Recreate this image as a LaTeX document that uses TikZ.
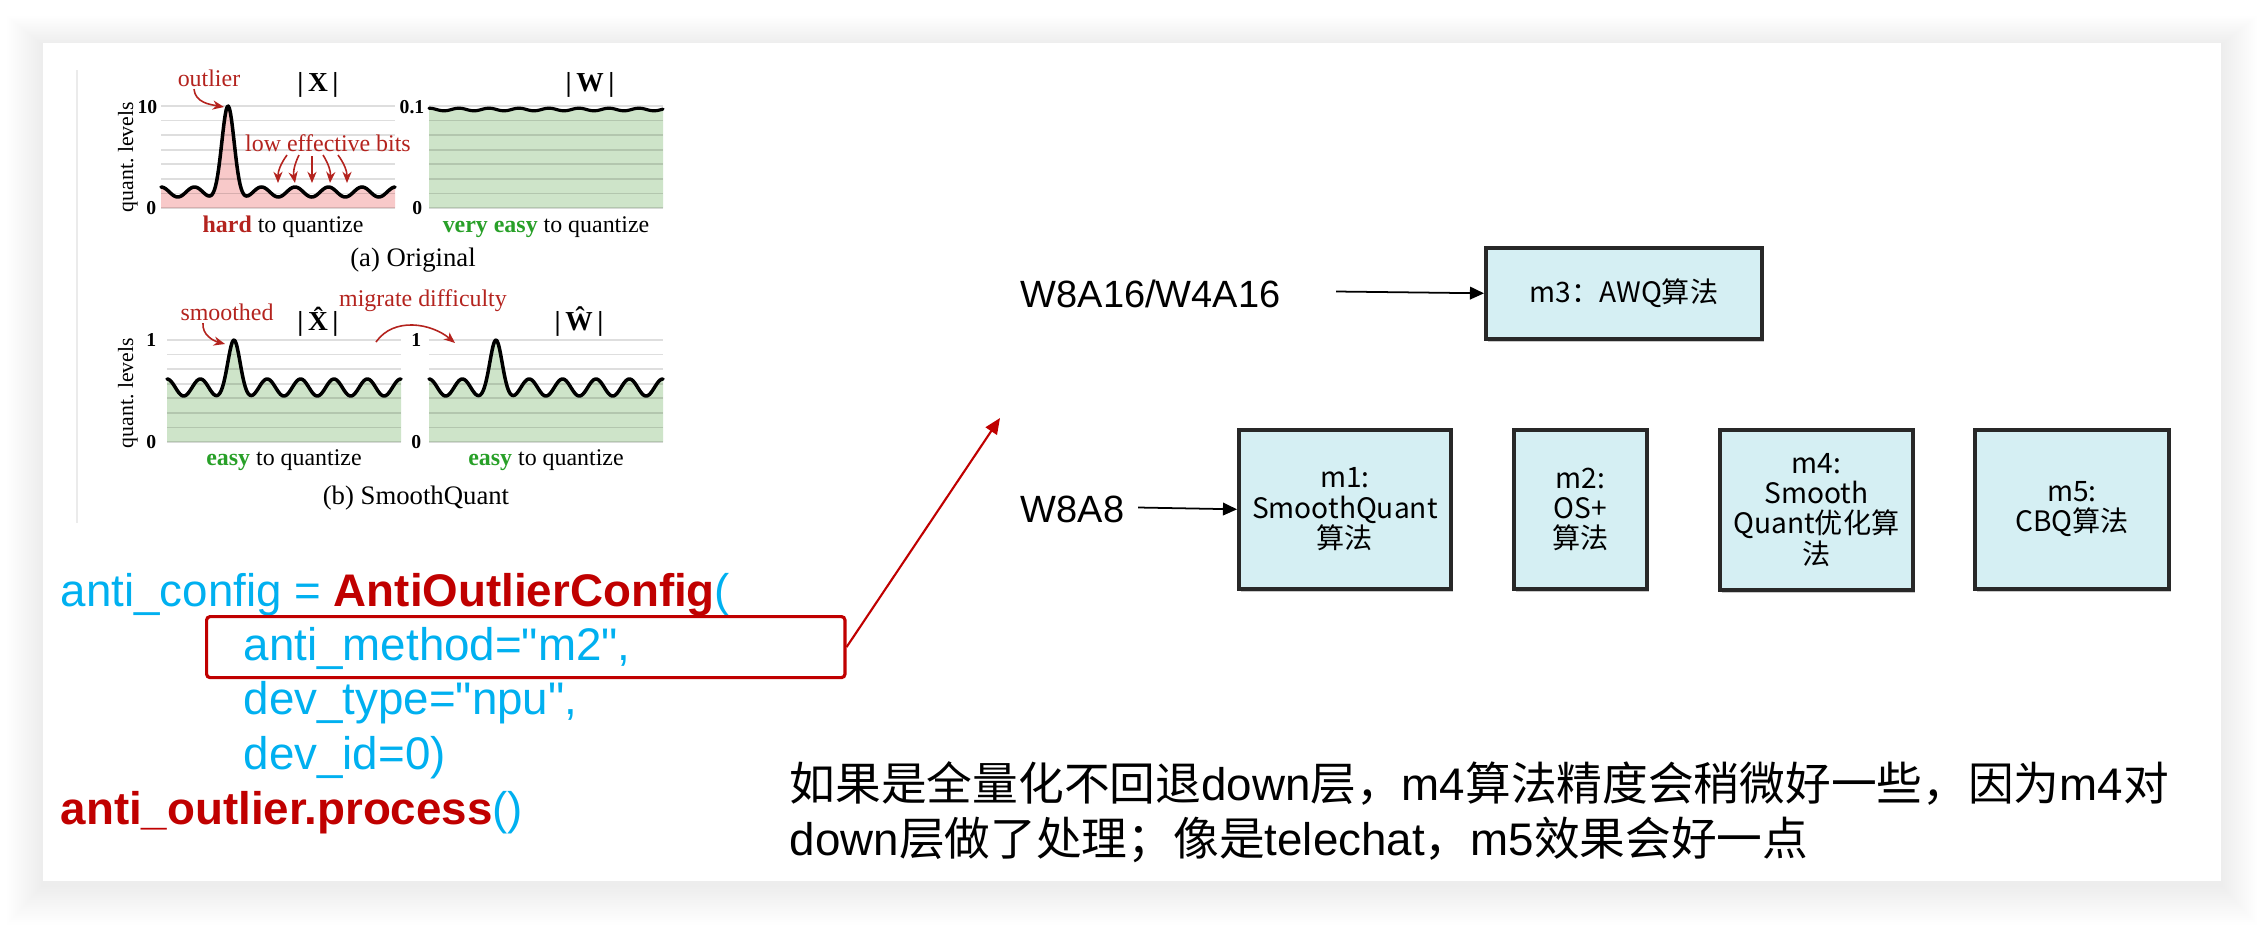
\documentclass[tikz,border=0pt]{standalone}
\usepackage{fontspec}
\setmainfont{Liberation Serif}
\newfontfamily\arial{Liberation Sans}
\newfontfamily\cjk{Noto Sans CJK SC}
\usetikzlibrary{arrows.meta,shadows}
\definecolor{codeblue}{RGB}{0,176,240}
\definecolor{codered}{RGB}{192,0,0}
\definecolor{figred}{RGB}{180,35,30}
\definecolor{figgreen}{RGB}{40,160,40}
\definecolor{pinkfill}{RGB}{248,201,201}
\definecolor{greenfill}{RGB}{206,228,201}
\definecolor{boxfill}{RGB}{213,239,243}
\definecolor{boxline}{RGB}{40,40,40}
\tikzset{
  figtxt/.style={inner sep=0pt, font=\fontsize{6.8}{8}\selectfont},
  redtxt/.style={figtxt, text=figred},
  ticktxt/.style={inner sep=0pt, font=\bfseries\fontsize{5.6}{6}\selectfont},
  captxt/.style={inner sep=0pt, font=\fontsize{7.6}{9}\selectfont},
  titletxt/.style={inner sep=0pt, font=\bfseries\fontsize{7.8}{9}\selectfont},
  grid line/.style={black, opacity=0.13, line width=0.45pt},
  curve/.style={line width=1pt, line join=round, line cap=round},
  redarrow/.style={figred, line width=0.45pt, -{Stealth[length=3.2pt,width=2.6pt]}},
  codetxt/.style={inner sep=0pt, anchor=base west, font=\arial\fontsize{13}{15}\selectfont, text=codeblue},
  algbox/.style={draw=boxline, line width=1pt, fill=boxfill, anchor=north west, align=center, inner sep=1pt,
    font=\cjk\fontsize{8}{8.6}\selectfont,
    drop shadow={shadow xshift=0.7pt, shadow yshift=-1pt, opacity=0.35, fill=black!60}},
  lbltxt/.style={inner sep=0pt, anchor=west, font=\arial\fontsize{10.8}{12}\selectfont},
  blackarrow/.style={line width=0.5pt, -{Triangle[length=4pt,width=3.6pt]}},
  notetxt/.style={inner sep=0pt, anchor=west, font=\arial\fontsize{13}{15}\selectfont},
}
\begin{document}
\begin{tikzpicture}[x=0.01cm,y=-0.01cm]
\useasboundingbox (0,0) rectangle (2264,924);
\fill[white] (0,0) rectangle (2264,924);
% slide shadow
\foreach \i in {1,...,18}{
  \fill[black, opacity=0.005] (43-2*\i,45-1.6*\i) rectangle (2221+2*\i,885+2.2*\i);
}
\fill[white] (43,43) rectangle (2221,881);

% inset border
\draw[black!8, line width=0.6pt] (77,70) -- (77,523);

% ---------- top-left chart |X|
\fill[pinkfill] (161,208) -- plot[domain=161:395, samples=220] (\x,{192-5*cos((\x-161)/33.5*360)-81*exp(-((\x-228)/8.5)*((\x-228)/8.5))}) -- (395,208) -- cycle;
\foreach \k in {0,...,7} \draw[grid line] (161,{106+\k*14.57}) -- (395,{106+\k*14.57});
\draw[curve] plot[domain=161:395, samples=220] (\x,{192-5*cos((\x-161)/33.5*360)-81*exp(-((\x-228)/8.5)*((\x-228)/8.5))});

% ---------- top-right chart |W|
\fill[greenfill] (429,208) -- plot[domain=429:663, samples=160] (\x,{109.5-1.3*cos((\x-429)/30*360)}) -- (663,208) -- cycle;
\foreach \k in {0,...,7} \draw[grid line] (429,{106+\k*14.57}) -- (663,{106+\k*14.57});
\draw[curve, line width=0.9pt] plot[domain=429:663, samples=160] (\x,{109.5-1.3*cos((\x-429)/30*360)});

% ---------- bottom-left chart
\fill[greenfill] (167,442) -- plot[domain=167:401, samples=220] (\x,{387.5-8.5*cos((\x-167)/33.4*360)-39*exp(-((\x-234)/8)*((\x-234)/8))}) -- (401,442) -- cycle;
\foreach \k in {0,...,7} \draw[grid line] (167,{340+\k*14.57}) -- (401,{340+\k*14.57});
\draw[curve] plot[domain=167:401, samples=220] (\x,{387.5-8.5*cos((\x-167)/33.4*360)-39*exp(-((\x-234)/8)*((\x-234)/8))});

% ---------- bottom-right chart
\fill[greenfill] (429,442) -- plot[domain=429:663, samples=220] (\x,{387.5-8.5*cos((\x-429)/33.4*360)-39*exp(-((\x-496)/8)*((\x-496)/8))}) -- (663,442) -- cycle;
\foreach \k in {0,...,7} \draw[grid line] (429,{340+\k*14.57}) -- (663,{340+\k*14.57});
\draw[curve] plot[domain=429:663, samples=220] (\x,{387.5-8.5*cos((\x-429)/33.4*360)-39*exp(-((\x-496)/8)*((\x-496)/8))});

% ---------- chart texts
\node[redtxt] (outl) at (209,78) {outlier};
\coordinate (pkTL) at (224,107);
\draw[redarrow] ([xshift=-0.15cm,yshift=-0.02cm]outl.south) to[out=-85,in=170] (pkTL);
\node[titletxt] (xt) at (318,85) {|\,X\,|};
\node[titletxt] (wt) at (590,85) {|\,W\,|};
\node[ticktxt, anchor=east] (t10) at (158,107) {10};
\node[ticktxt, anchor=east] (t0a) at (157,208) {0};
\node[ticktxt, anchor=east] (t01) at (425,107) {0.1};
\node[ticktxt, anchor=east] (t0b) at (423,208) {0};
\node[inner sep=0pt, rotate=90, font=\fontsize{6.2}{7}\selectfont] (ql1) at (128,157) {quant.\ levels};
\node[redtxt] (lowb) at (328,143) {low effective bits};
\foreach \sx/\ex/\bb in {287/278/right, 299/295/right, 323/330/left, 338/347/left}
  \draw[redarrow] (\sx,155) to[bend \bb=18] (\ex,183);
\draw[redarrow] (312,156) -- (312,183);
\node[figtxt] (hq) at (283,227) {\textbf{\color{figred}hard} to quantize};
\node[figtxt] (vq) at (546,227) {\textbf{\color{figgreen}very easy} to quantize};
\node[captxt] (capa) at (413,260) {(a) Original};

\node[redtxt] (smo) at (227,312) {smoothed};
\coordinate (pkBL) at (225,344);
\draw[redarrow] ([xshift=-0.24cm,yshift=-0.02cm]smo.south) to[out=-95,in=165] (pkBL);
\node[titletxt] (xh) at (318,322) {|\,\^{X}\,|};
\node[titletxt] (wh) at (579,322) {|\,\^{W}\,|};
\node[redtxt] (mig) at (423,301) {migrate difficulty};
\coordinate (mg1) at (376,342);
\coordinate (mg2) at (455,343);
\draw[redarrow] (mg1) to[out=55,in=140] (mg2);
\node[ticktxt, anchor=east] (t1a) at (157,340) {1};
\node[ticktxt, anchor=east] (t0c) at (157,442) {0};
\node[ticktxt, anchor=east] (t1b) at (422,340) {1};
\node[ticktxt, anchor=east] (t0d) at (422,442) {0};
\node[inner sep=0pt, rotate=90, font=\fontsize{6.2}{7}\selectfont] (ql2) at (128,393) {quant.\ levels};
\node[figtxt] (eq1) at (284,460) {\textbf{\color{figgreen}easy} to quantize};
\node[figtxt] (eq2) at (546,460) {\textbf{\color{figgreen}easy} to quantize};
\node[captxt] (capb) at (416,498) {(b) SmoothQuant};

% ---------- code
\node[codetxt] (c1) at (60,606) {anti\_config = {\bfseries\color{codered}AntiOutlierConfig}(};
\node[codetxt] (c2) at (243,660) {anti\_method="m2",};
\node[codetxt] (c3) at (243,714) {dev\_type="npu",};
\node[codetxt] (c4) at (243,769) {dev\_id=0)};
\node[codetxt] (c5) at (60,824) {{\bfseries\color{codered}anti\_outlier.process}()};
\node[draw=codered, line width=0.9pt, rounded corners=1pt, minimum width=6.38cm, minimum height=0.61cm, anchor=north west, inner sep=0pt] (hl) at (205,615) {};
\coordinate (redtip) at (1000,418);
\draw[codered, line width=0.6pt, -{Triangle[length=4.5pt,width=3.8pt]}] (hl.east) -- (redtip);

% ---------- right diagram
\node[lbltxt] (w816) at (1020,294) {W8A16/W4A16};
\node[algbox, minimum width=2.76cm, minimum height=0.91cm] (m3) at (1484,246) {m3：AWQ算法};
\coordinate (a1) at (1336,291.5);
\draw[blackarrow] (a1) -- (m3.west);

\node[lbltxt] (w88) at (1020,509) {W8A8};
\node[algbox, minimum width=2.12cm, minimum height=1.59cm] (m1) at (1237,428) {m1:\\SmoothQuant\\算法};
\node[algbox, minimum width=1.33cm, minimum height=1.59cm] (m2) at (1512,428) {m2:\\OS+\\算法};
\node[algbox, minimum width=1.93cm, minimum height=1.60cm] (m4) at (1718,428) {m4:\\Smooth\\Quant优化算\\法};
\node[algbox, minimum width=1.94cm, minimum height=1.59cm] (m5) at (1973,428) {m5:\\CBQ算法};
\coordinate (a2) at (1138,507.5);
\draw[blackarrow] (a2) -- (m1.west);

% ---------- note
\node[notetxt] (n1) at (789,783) {{\cjk 如果是全量化不回退}down{\cjk 层，}m4{\cjk 算法精度会稍微好一些，因为}m4{\cjk 对}};
\node[notetxt] (n2) at (789,840) {down{\cjk 层做了处理；像是}telechat{\cjk ，}m5{\cjk 效果会好一点}};
\end{tikzpicture}
\end{document}
